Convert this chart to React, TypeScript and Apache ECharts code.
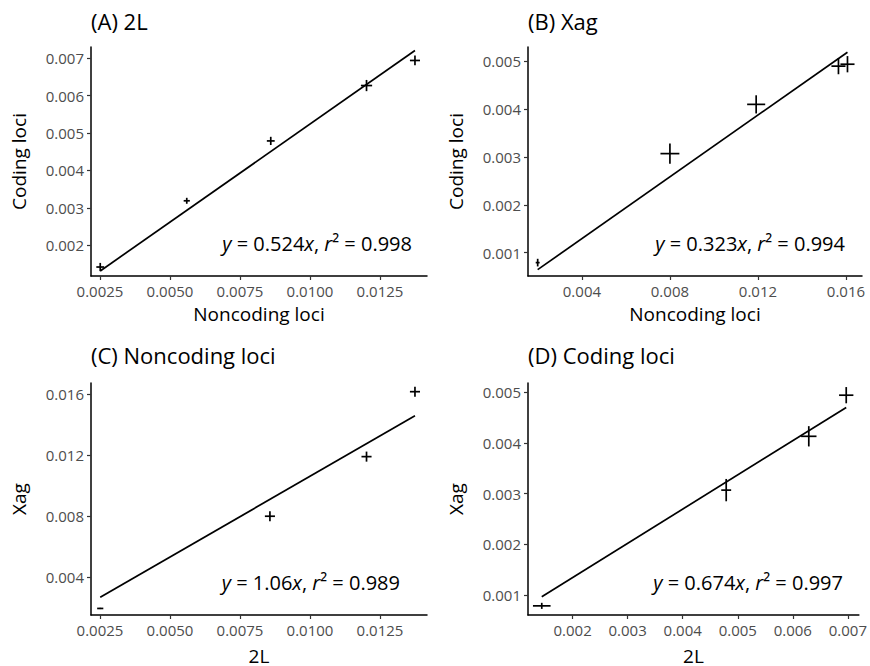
import React, { useEffect, useRef } from "react";
import * as echarts from "echarts";

// ---- Data ----
const panelTitles = ["(A) 2L", "(B) Xag", "(C) Noncoding loci", "(D) Coding loci"];
const xNames = ["Noncoding loci", "Noncoding loci", "2L", "2L"];
const yNames = ["Coding loci", "Coding loci", "Xag", "Xag"];

const A_x = [0.00251, 0.0056, 0.0086, 0.01202, 0.01375];
const A_y = [0.00142, 0.00319, 0.00479, 0.00627, 0.00694];
const A_xErr = [0.00014, 0.00011, 0.00014, 0.0002, 0.00018];
const A_yErr = [0.00011, 0.00008, 0.00011, 0.00015, 0.00013];

const B_x = [0.00199, 0.008, 0.01192, 0.01566, 0.01607];
const B_y = [0.00079, 0.00307, 0.0041, 0.0049, 0.00494];
const B_xErr = [0.00009, 0.00043, 0.00041, 0.00032, 0.00032];
const B_yErr = [0.00008, 0.00021, 0.00019, 0.00017, 0.00017];

const C_x = [0.00251, 0.00857, 0.01202, 0.01375];
const C_y = [0.00193, 0.00798, 0.01189, 0.01615];
const C_xErr = [0.00011, 0.00018, 0.00018, 0.00018];
const C_yErr = [0.00004, 0.00033, 0.00033, 0.00033];

const D_x = [0.00144, 0.00479, 0.00629, 0.00697];
const D_y = [0.00079, 0.00307, 0.00413, 0.00494];
const D_xErr = [0.00016, 0.00009, 0.00014, 0.00013];
const D_yErr = [0.00006, 0.00022, 0.0002, 0.00016];

const slopes = [0.524, 0.323, 1.06, 0.674];
const slopeLabels = ["0.524", "0.323", "1.06", "0.674"];
const r2Labels = ["0.998", "0.994", "0.989", "0.997"];

const xTicksA = [0.0025, 0.005, 0.0075, 0.01, 0.0125];
const yTicksA = [0.002, 0.003, 0.004, 0.005, 0.006, 0.007];
const xTicksB = [0.004, 0.008, 0.012, 0.016];
const yTicksB = [0.001, 0.002, 0.003, 0.004, 0.005];
const xTicksC = [0.0025, 0.005, 0.0075, 0.01, 0.0125];
const yTicksC = [0.004, 0.008, 0.012, 0.016];
const xTicksD = [0.002, 0.003, 0.004, 0.005, 0.006, 0.007];
const yTicksD = [0.001, 0.002, 0.003, 0.004, 0.005];

const xRanges = [[0.00218, 0.01418], [0.00155, 0.01673], [0.00218, 0.01418], [0.00119, 0.0072]];
const yRanges = [[0.00118, 0.0073], [0.00051, 0.0053], [0.0015, 0.01672], [0.00061, 0.00518]];

const FONT = "'Open Sans', sans-serif";

export default function App() {
  const ref = useRef<HTMLDivElement>(null);

  useEffect(() => {
    if (!ref.current) return;
    const chart = echarts.init(ref.current, undefined, { renderer: "svg" });

    const panels = [
      { x: A_x, y: A_y, xe: A_xErr, ye: A_yErr, xt: xTicksA, yt: yTicksA, xd: 4, yd: 3 },
      { x: B_x, y: B_y, xe: B_xErr, ye: B_yErr, xt: xTicksB, yt: yTicksB, xd: 3, yd: 3 },
      { x: C_x, y: C_y, xe: C_xErr, ye: C_yErr, xt: xTicksC, yt: yTicksC, xd: 4, yd: 3 },
      { x: D_x, y: D_y, xe: D_xErr, ye: D_yErr, xt: xTicksD, yt: yTicksD, xd: 3, yd: 3 },
    ];

    const grids = [
      { left: 91, top: 47, width: 336, height: 229 },
      { left: 528, top: 47, width: 334, height: 229 },
      { left: 91, top: 383, width: 336, height: 233 },
      { left: 528, top: 383, width: 334, height: 233 },
    ];
    const xNameGaps = [28, 28, 31, 31];

    const xAxis: any[] = [];
    const yAxis: any[] = [];
    const series: any[] = [];
    const titles: any[] = [];
    const graphics: any[] = [];

    const annoPos = [
      [412, 243],
      [845, 243],
      [400, 582],
      [843, 582],
    ];

    panels.forEach((p, i) => {
      const axisCommon = {
        type: "value",
        gridIndex: i,
        splitLine: { show: false },
        axisLine: { show: true, onZero: false, lineStyle: { color: "#000", width: 1.5 } },
        nameLocation: "middle",
        nameTextStyle: { color: "#000", fontSize: 19, fontFamily: FONT },
      };
      xAxis.push({
        ...axisCommon,
        min: xRanges[i][0],
        max: xRanges[i][1],
        name: xNames[i],
        nameGap: xNameGaps[i],
        axisTick: { show: true, length: 4, lineStyle: { color: "#333", width: 1.2 }, customValues: p.xt },
        axisLabel: {
          customValues: p.xt,
          formatter: (v: number) => v.toFixed(p.xd),
          color: "#4d4d4d",
          fontSize: 15,
          fontFamily: FONT,
          margin: 7,
        },
      });
      yAxis.push({
        ...axisCommon,
        min: yRanges[i][0],
        max: yRanges[i][1],
        name: yNames[i],
        nameGap: 63,
        axisTick: { show: true, length: 4, lineStyle: { color: "#333", width: 1.2 }, customValues: p.yt },
        axisLabel: {
          customValues: p.yt,
          formatter: (v: number) => v.toFixed(p.yd),
          color: "#4d4d4d",
          fontSize: 15,
          fontFamily: FONT,
          margin: 7,
        },
      });

      const errData = p.x.map((xv, k) => [xv, p.y[k], p.xe[k], p.ye[k]]);
      series.push({
        type: "custom",
        coordinateSystem: "cartesian2d",
        xAxisIndex: i,
        yAxisIndex: i,
        silent: true,
        encode: { x: 0, y: 1 },
        data: errData,
        renderItem: (params: any, api: any) => {
          const xv = api.value(0);
          const yv = api.value(1);
          const xe = api.value(2);
          const ye = api.value(3);
          const l = api.coord([xv - xe, yv]);
          const r = api.coord([xv + xe, yv]);
          const t = api.coord([xv, yv + ye]);
          const b = api.coord([xv, yv - ye]);
          const st = { stroke: "#000", lineWidth: 1.7 };
          return {
            type: "group",
            children: [
              { type: "line", shape: { x1: l[0], y1: l[1], x2: r[0], y2: r[1] }, style: st },
              { type: "line", shape: { x1: t[0], y1: t[1], x2: b[0], y2: b[1] }, style: st },
            ],
          };
        },
      });

      const xmin = Math.min(...p.x);
      const xmax = Math.max(...p.x);
      series.push({
        type: "line",
        xAxisIndex: i,
        yAxisIndex: i,
        silent: true,
        showSymbol: false,
        symbol: "none",
        lineStyle: { color: "#000", width: 1.7 },
        data: [
          [xmin, slopes[i] * xmin],
          [xmax, slopes[i] * xmax],
        ],
      });

      titles.push({
        text: panelTitles[i],
        left: grids[i].left,
        top: i < 2 ? 10 : 344,
        padding: 0,
        textStyle: { color: "#000", fontSize: 22, fontWeight: "normal", fontFamily: FONT },
      });

      graphics.push({
        type: "text",
        x: annoPos[i][0],
        y: annoPos[i][1],
        silent: true,
        style: {
          text: `{i|y} = ${slopeLabels[i]}{i|x}, {i|r}² = ${r2Labels[i]}`,
          fill: "#000",
          fontSize: 20,
          fontFamily: FONT,
          align: "right",
          verticalAlign: "middle",
          rich: {
            i: { fontStyle: "italic", fontSize: 20, fontFamily: FONT, fill: "#000" },
          },
        },
      });
    });

    chart.setOption({
      animation: false,
      backgroundColor: "#fff",
      title: titles,
      grid: grids,
      xAxis,
      yAxis,
      series,
      graphic: graphics,
    });

    return () => chart.dispose();
  }, []);

  return (
    <div
      ref={ref}
      style={{ position: "absolute", left: 0, top: 0, width: 870, height: 666 }}
    />
  );
}
